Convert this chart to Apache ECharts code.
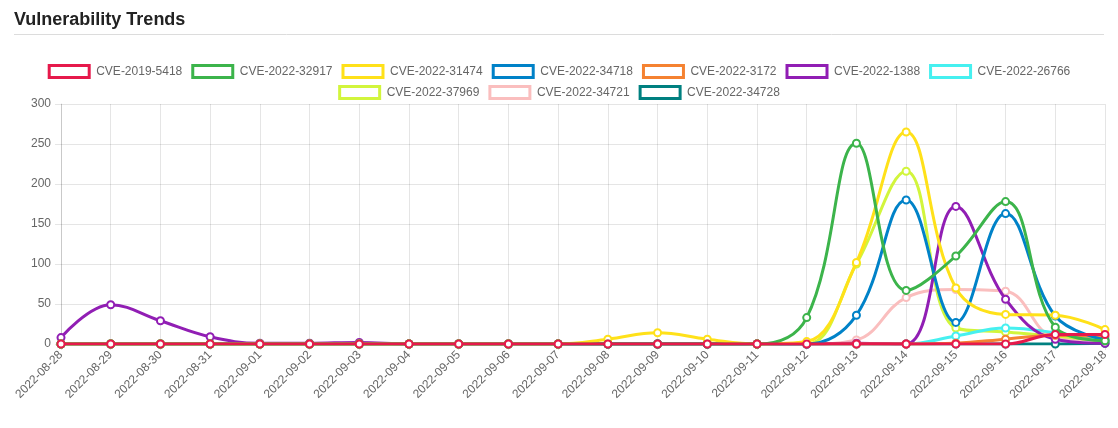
<!DOCTYPE html>
<html>
<head>
<meta charset="utf-8">
<script src="https://cdn.jsdelivr.net/npm/echarts@6/dist/echarts.min.js"></script>
<style>html,body{margin:0;padding:0;background:#fff}#c{width:1118px;height:428px}</style>
</head>
<body>
<div id="c"></div>
<script>
var dates = ['2022-08-28','2022-08-29','2022-08-30','2022-08-31','2022-09-01','2022-09-02','2022-09-03','2022-09-04','2022-09-05','2022-09-06','2022-09-07','2022-09-08','2022-09-09','2022-09-10','2022-09-11','2022-09-12','2022-09-13','2022-09-14','2022-09-15','2022-09-16','2022-09-17','2022-09-18'];
var names = ['CVE-2019-5418','CVE-2022-32917','CVE-2022-31474','CVE-2022-34718','CVE-2022-3172','CVE-2022-1388','CVE-2022-26766','CVE-2022-37969','CVE-2022-34721','CVE-2022-34728'];
var colors = ['#e6194b','#3cb44b','#ffe119','#0082c8','#f58231','#911eb4','#46f0f0','#d2f53c','#fabebe','#008080'];
var cve2019_5418  = [0,0,0,0,0,0,0,0,0,0,0,0,0,0,0,0,0,0,0,0,12,12];
var cve2022_32917 = [0,0,0,0,0,0,0,0,0,0,0,0,0,0,0,33,251,67,110,178,21,4];
var cve2022_31474 = [0,0,0,0,0,0,0,0,0,0,0,6,14,6,0,3,102,265,70,37,36,18];
var cve2022_34718 = [0,0,0,0,0,0,0,0,0,0,0,0,0,0,0,0,36,180,27,163,35,5];
var cve2022_3172  = [0,0,0,0,0,0,0,0,0,0,0,0,0,0,0,0,0,0,1,6,11,9];
var cve2022_1388  = [8,49,29,9,1,1,2,0,0,0,0,0,0,0,0,0,1,0,172,56,6,1];
var cve2022_26766 = [0,0,0,0,0,0,0,0,0,0,0,0,0,0,0,0,0,0,10,20,14,3];
var cve2022_37969 = [0,0,0,0,0,0,0,0,0,0,0,0,0,0,0,0,100,216,20,15,10,3];
var cve2022_34721 = [0,0,0,0,0,0,0,0,0,0,0,0,0,0,0,0,5,58,68,66,8,5];
var cve2022_34728 = [0,0,0,0,0,0,0,0,0,0,0,0,0,0,0,0,0,0,0,0,0,1];
var values = [cve2019_5418,cve2022_32917,cve2022_31474,cve2022_34718,cve2022_3172,cve2022_1388,cve2022_26766,cve2022_37969,cve2022_34721,cve2022_34728];
var yTicks = {min:0, max:300, interval:50};

var font = 'Liberation Sans, Arial, Helvetica, sans-serif';
function legendItems(from, to){
  var arr = [];
  for (var i = from; i < to; i++) {
    arr.push({name: names[i], icon: 'rect', itemStyle: {color: '#fff', borderColor: colors[i], borderWidth: 3, opacity: 1}});
  }
  return arr;
}
var legendCommon = {
  itemWidth: 40, itemHeight: 12, itemGap: 9,
  textStyle: {color: '#666', fontSize: 12, fontFamily: font, padding: [0,0,0,2]},
  lineStyle: {width: 0}, orient: 'horizontal', left: 'center'
};
var series = names.map(function(n, i){
  return {
    name: n, type: 'line', data: values[i], smooth: 0.4,
    z: 20 - i,
    symbol: 'emptyCircle', symbolSize: 7, showSymbol: true,
    lineStyle: {color: colors[i], width: 3},
    itemStyle: {color: colors[i], borderColor: colors[i], borderWidth: 1},
    emphasis: {disabled: true}
  };
});
var chart = echarts.init(document.getElementById('c'), null, {renderer: 'canvas'});
chart.setOption({
  animation: false,
  backgroundColor: '#fff',
  title: {text: 'Vulnerability Trends', left: 9, top: 6, textStyle: {fontSize: 18, fontWeight: 'bold', color: '#222', fontFamily: font}},
  graphic: [{type: 'line', shape: {x1: 14, y1: 34.5, x2: 1104, y2: 34.5}, style: {stroke: '#dcdcdc', lineWidth: 1}}],
  legend: [
    Object.assign({}, legendCommon, {top: 59, data: legendItems(0, 7)}),
    Object.assign({}, legendCommon, {top: 80, data: legendItems(7, 10)})
  ],
  grid: {left: 61, right: 13, top: 104, bottom: 84, containLabel: false},
  xAxis: {
    type: 'category', data: dates, boundaryGap: false,
    axisLine: {show: true, lineStyle: {color: 'rgba(0,0,0,0.12)'}},
    axisTick: {show: true, alignWithLabel: true, length: 6, lineStyle: {color: 'rgba(0,0,0,0.12)'}},
    splitLine: {show: true, lineStyle: {color: 'rgba(0,0,0,0.1)'}},
    axisLabel: {rotate: 45, color: '#666', fontSize: 12, fontFamily: font, margin: 9, interval: 0}
  },
  yAxis: {
    type: 'value', min: yTicks.min, max: yTicks.max, interval: yTicks.interval,
    axisLine: {show: true, lineStyle: {color: 'rgba(0,0,0,0.12)'}},
    axisTick: {show: true, length: 6, lineStyle: {color: 'rgba(0,0,0,0.1)'}},
    splitLine: {show: true, lineStyle: {color: 'rgba(0,0,0,0.1)'}},
    axisLabel: {color: '#666', fontSize: 12, fontFamily: font, margin: 10}
  },
  series: series
});
</script>
</body>
</html>
